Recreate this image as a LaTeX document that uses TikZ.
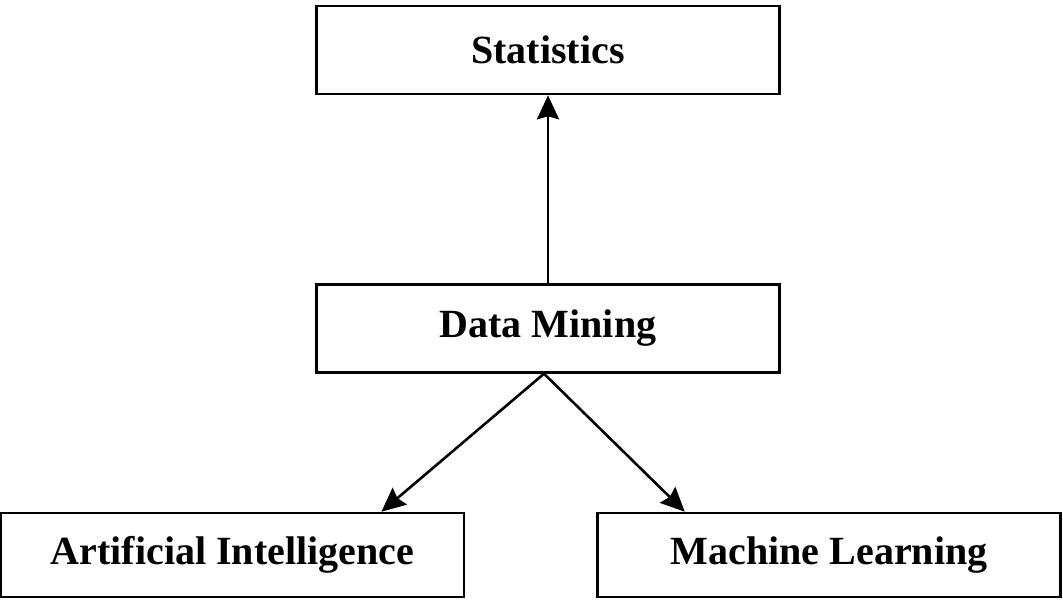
\documentclass[tikz,border=0pt]{standalone}
\usepackage{fontspec}
\setmainfont{Liberation Serif}
\usetikzlibrary{arrows.meta,positioning,calc}

\begin{document}
\begin{tikzpicture}[
  x=0.5pt, y=-0.5pt,
  >={Stealth[length=12pt,width=11pt,inset=1.5pt]},
  every path/.style={line width=1.3pt},
  box/.style={draw, line width=1.2pt,
              minimum height=44pt, minimum width=231.5pt,
              inner sep=4pt, align=center,
              font=\fontsize{20}{24}\selectfont\bfseries},
]
\useasboundingbox (0,0) rectangle (1063,602);

% --- Boxes ---
\node[box] (dm) at (548,328.5) {Data Mining};
\node[box, above=94pt of dm] (stats) {Statistics};
\node[box, minimum height=42pt, below=69pt of dm, xshift=-157.75pt] (ai) {Artificial Intelligence};
\node[box, minimum height=42pt, below=69pt of dm, xshift=140.5pt]   (ml) {Machine Learning};

% --- Arrows ---
\draw[->] (dm.north) -- (stats.south);
\draw[->] ([xshift=-2pt]dm.south) -- ($(ai.north west)!0.82!(ai.north east)$);
\draw[->] ([xshift=-2pt]dm.south) -- ($(ml.north west)!0.19!(ml.north east)$);
\end{tikzpicture}
\end{document}
